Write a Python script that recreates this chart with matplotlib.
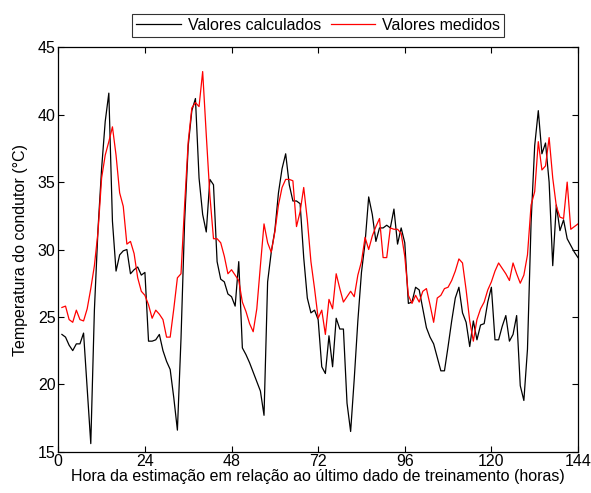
import matplotlib
matplotlib.use("Agg")
import matplotlib.pyplot as plt
import numpy as np

plt.rcParams['font.family'] = ['Liberation Sans', 'DejaVu Sans']

hours = list(range(1, 145))

calculados = [
    23.7, 23.5, 22.9, 22.5, 23.0, 23.0, 23.8, 19.7, 15.6, 25.5,
    31.5, 36.0, 39.5, 41.6, 32.1, 28.4, 29.6, 29.9, 30.0, 28.2,
    28.5, 28.7, 28.1, 28.3, 23.2, 23.2, 23.3, 23.7, 22.5, 21.7,
    21.1, 19.0, 16.6, 23.4, 32.1, 37.7, 40.3, 41.2, 35.3, 32.6,
    31.3, 35.2, 34.8, 29.1, 27.8, 27.6, 26.7, 26.5, 25.8, 29.1,
    22.7, 22.2, 21.6, 20.9, 20.2, 19.5, 17.7, 27.6, 29.8, 31.4,
    34.2, 36.0, 37.1, 34.8, 33.6, 33.6, 33.4, 29.4, 26.4, 25.3,
    25.5, 24.8, 21.3, 20.8, 23.6, 21.3, 24.9, 24.1, 24.1, 18.6,
    16.5, 20.4, 24.7, 28.3, 30.5, 33.9, 32.6, 30.6, 31.6, 31.6,
    31.8, 31.6, 33.0, 30.4, 31.6, 30.5, 26.0, 26.1, 27.2, 27.0,
    25.6, 24.2, 23.5, 23.0, 22.0, 21.0, 21.0, 22.8, 24.7, 26.4,
    27.2, 25.3, 24.6, 22.8, 24.7, 23.3, 24.4, 24.5, 26.1, 27.2,
    23.3, 23.3, 24.3, 25.1, 23.2, 23.7, 25.1, 19.9, 18.8, 22.6,
    32.0, 37.7, 40.3, 37.1, 37.9, 35.0, 28.8, 33.3, 31.4, 32.2,
    30.8, 30.3, 29.8, 29.4,
]

medidos = [
    25.7, 25.8, 24.8, 24.6, 25.5, 24.8, 24.7, 25.6, 27.1, 28.8,
    31.3, 35.3, 37.0, 38.0, 39.1, 37.0, 34.2, 33.2, 30.4, 30.6,
    29.7, 27.9, 26.9, 26.6, 25.9, 24.9, 25.5, 25.2, 24.8, 23.5,
    23.5, 25.6, 27.9, 28.2, 33.3, 38.0, 40.5, 40.9, 40.6, 43.2,
    38.5, 34.0, 30.8, 30.8, 30.5, 29.5, 28.2, 28.5, 28.1, 27.7,
    26.1, 25.4, 24.5, 23.9, 25.6, 28.8, 31.9, 30.5, 29.8, 31.3,
    33.3, 34.6, 35.2, 35.2, 35.1, 31.7, 32.8, 34.6, 32.2, 29.1,
    27.1, 24.9, 25.5, 23.7, 26.3, 25.6, 28.2, 27.1, 26.1, 26.5,
    26.9, 26.5, 28.1, 29.1, 30.9, 30.0, 31.0, 31.7, 32.3, 29.4,
    29.4, 31.6, 31.5, 31.5, 31.2, 29.5, 26.6, 26.0, 26.6, 26.1,
    26.9, 27.1, 25.9, 24.6, 26.4, 26.6, 27.1, 27.2, 27.7, 28.4,
    29.3, 29.0, 27.0, 24.7, 23.2, 24.8, 25.6, 26.1, 27.0, 27.6,
    28.4, 29.0, 28.6, 28.2, 27.7, 29.0, 28.2, 27.5, 28.1, 29.6,
    33.3, 34.3, 38.0, 35.9, 36.2, 38.3, 35.3, 33.2, 32.4, 32.3,
    35.0, 31.5, 31.7, 31.9,
]

xticks = [0, 24, 48, 72, 96, 120, 144]
yticks = [15, 20, 25, 30, 35, 40, 45]

FS = 11.5

fig = plt.figure(figsize=(5.91, 4.93), dpi=100)
ax = fig.add_axes([58.3/591, 1 - 451.7/493, (578 - 58.3)/591, (451.7 - 47.3)/493])

ax.plot(hours, calculados, color='black', lw=0.9, label='Valores calculados')
ax.plot(hours, medidos, color='#ff0000', lw=0.9, label='Valores medidos')

ax.set_xlim(0, 144)
ax.set_ylim(15, 45)
ax.set_xticks(xticks)
ax.set_yticks(yticks)
ax.tick_params(direction='in', top=True, right=True, labelsize=FS, length=4, width=0.8, pad=2)
for s in ax.spines.values():
    s.set_linewidth(0.9)

ax.set_xlabel('Hora da estimação em relação ao último dado de treinamento (horas)', fontsize=FS, labelpad=0)
ax.set_ylabel('Temperatura do condutor (°C)', fontsize=FS, labelpad=7)

leg = ax.legend(loc='lower center', bbox_to_anchor=(0.5, 1.0 + (47.3 - 36.5)/404.4), ncol=2,
                frameon=True, fancybox=False, shadow=False, borderaxespad=0, fontsize=FS,
                handlelength=2.8, columnspacing=0.6, borderpad=0.25, handletextpad=0.45)
leg.get_frame().set_edgecolor('black')
leg.get_frame().set_linewidth(0.8)

fig.savefig('out.png', dpi=100)
